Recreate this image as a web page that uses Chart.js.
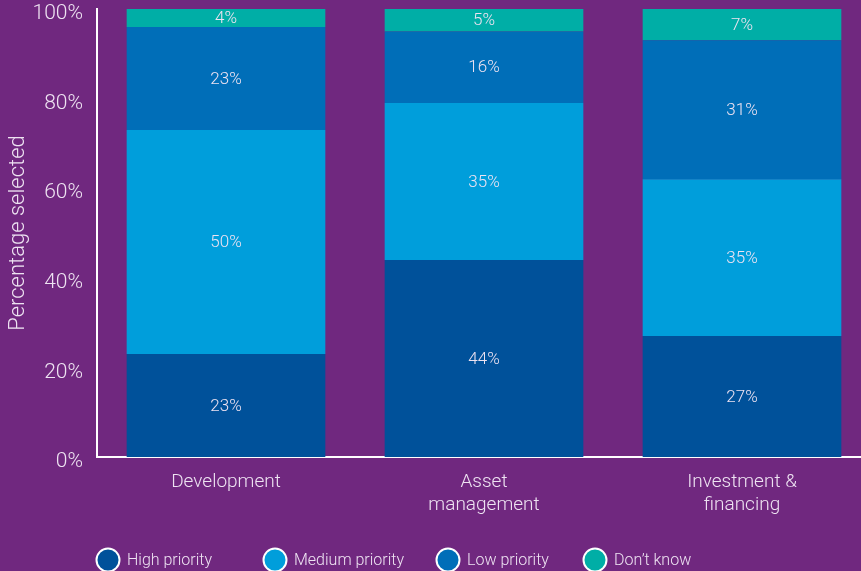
<!DOCTYPE html>
<html lang="en">
<head>
<meta charset="UTF-8">
<title>Priorities by business area</title>
<script src="https://cdn.jsdelivr.net/npm/chart.js"></script>
<style>
  html, body { margin: 0; padding: 0; background: #70287f; overflow: hidden; }
  #wrap { width: 871px; height: 571px; }
</style>
</head>
<body>
<div id="wrap"><canvas id="priorityChart" width="871" height="571"></canvas></div>
<script>
  // data
  const categories = [['Development'], ['Asset', 'management'], ['Investment &', 'financing']];
  const seriesNames = ['High priority', 'Medium priority', 'Low priority', 'Don\u2019t know'];
  const highPriority = [23, 44, 27];
  const mediumPriority = [50, 35, 35];
  const lowPriority = [23, 16, 31];
  const dontKnow = [4, 5, 7];
  const yTicks = [0, 20, 40, 60, 80, 100];

  const FONT = 'Roboto, "Liberation Sans", sans-serif';
  const TEXT = '#eee3f2';

  // percentage labels in the middle of every segment
  const segmentLabels = {
    id: 'segmentLabels',
    afterDatasetsDraw(chart) {
      const ctx = chart.ctx;
      ctx.save();
      ctx.font = '300 17px ' + FONT;
      ctx.fillStyle = TEXT;
      ctx.textAlign = 'center';
      ctx.textBaseline = 'middle';
      chart.data.datasets.forEach((ds, i) => {
        chart.getDatasetMeta(i).data.forEach((bar, j) => {
          ctx.fillText(ds.data[j] + '%', bar.x, (bar.y + bar.base) / 2 + 1);
        });
      });
      ctx.restore();
    }
  };

  // round swatch legend along the bottom
  const circleLegend = {
    id: 'circleLegend',
    afterDraw(chart, args, opts) {
      const ctx = chart.ctx;
      ctx.save();
      ctx.font = '300 16px ' + FONT;
      ctx.textAlign = 'left';
      ctx.textBaseline = 'middle';
      chart.data.datasets.forEach((ds, i) => {
        const cx = opts.x[i];
        ctx.beginPath();
        ctx.arc(cx, opts.y, 11.5, 0, Math.PI * 2);
        ctx.fillStyle = ds.backgroundColor;
        ctx.fill();
        ctx.lineWidth = 2;
        ctx.strokeStyle = '#ffffff';
        ctx.stroke();
        ctx.fillStyle = TEXT;
        ctx.fillText(ds.label, cx + 19, opts.y + 1);
      });
      ctx.restore();
    }
  };

  const ctx = document.getElementById('priorityChart').getContext('2d');
  new Chart(ctx, {
    type: 'bar',
    data: {
      labels: categories,
      datasets: [
        { label: seriesNames[0], data: highPriority, backgroundColor: '#00519a' },
        { label: seriesNames[1], data: mediumPriority, backgroundColor: '#009edb' },
        { label: seriesNames[2], data: lowPriority, backgroundColor: '#006eb8' },
        { label: seriesNames[3], data: dontKnow, backgroundColor: '#00aea6' }
      ]
    },
    options: {
      responsive: false,
      animation: false,
      barPercentage: 0.77,
      categoryPercentage: 1,
      layout: { padding: { top: 9, right: 0, bottom: 0, left: 0 } },
      plugins: {
        legend: { display: false },
        tooltip: { enabled: false },
        circleLegend: { x: [108, 275, 448, 595], y: 560 }
      },
      scales: {
        x: {
          stacked: true,
          grid: { display: false, drawTicks: false },
          border: { display: true, color: '#ffffff', width: 2 },
          ticks: { color: TEXT, font: { family: FONT, size: 19, weight: 300 }, padding: 14, maxRotation: 0 },
          afterFit(scale) { scale.height = 114; }
        },
        y: {
          stacked: true,
          min: 0,
          max: 100,
          afterBuildTicks(scale) { scale.ticks = yTicks.map(v => ({ value: v })); },
          grid: { display: false, drawTicks: false },
          border: { display: true, color: '#ffffff', width: 2 },
          ticks: {
            color: TEXT,
            font: { family: FONT, size: 21, weight: 300 },
            padding: 14,
            labelOffset: 5,
            callback: v => v + '%'
          },
          title: {
            display: true,
            text: 'Percentage selected',
            color: TEXT,
            font: { family: FONT, size: 22, weight: 300 },
            padding: { top: 5, bottom: 0 }
          },
          afterFit(scale) {
            scale.width = 97;
            scale.paddingTop = 0;
            scale.paddingBottom = 0;
          }
        }
      }
    },
    plugins: [segmentLabels, circleLegend]
  });
</script>
</body>
</html>
